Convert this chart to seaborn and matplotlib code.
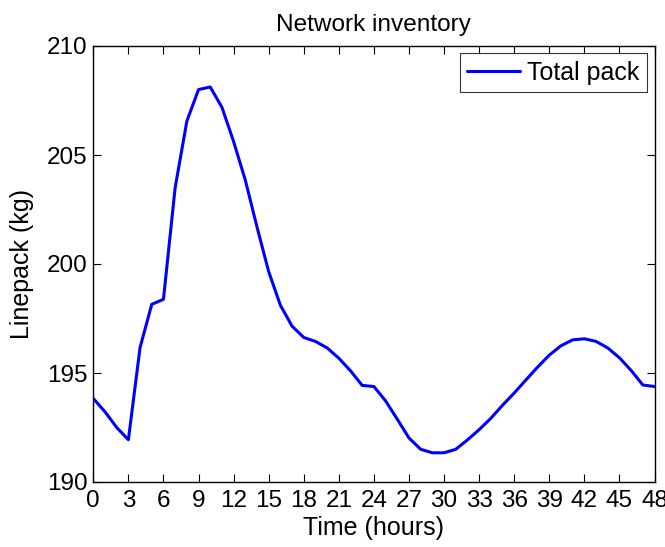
import numpy as np
import pandas as pd
import matplotlib
matplotlib.use("Agg")
import matplotlib.pyplot as plt
import seaborn as sns

# Hourly network linepack over a two-day horizon
hours = list(range(49))
linepack = [
    193.83, 193.22, 192.50, 191.94, 196.17, 198.15, 198.38, 203.50, 206.55, 208.00,
    208.12, 207.19, 205.62, 203.85, 201.70, 199.65, 198.11, 197.15, 196.63, 196.45,
    196.15, 195.68, 195.10, 194.43, 194.38, 193.72, 192.88, 192.02, 191.50, 191.34,
    191.34, 191.50, 191.93, 192.40, 192.92, 193.52, 194.08, 194.68, 195.27, 195.82,
    196.25, 196.52, 196.57, 196.45, 196.15, 195.70, 195.12, 194.45, 194.38,
]
xticks = list(range(0, 49, 3))
yticks = [190, 195, 200, 205, 210]

df = pd.DataFrame({"Time (hours)": hours, "Linepack (kg)": linepack})

sns.set_style("ticks")
plt.rcParams["font.family"] = ["Liberation Sans", "DejaVu Sans"]
plt.rcParams["text.color"] = "black"
plt.rcParams["axes.labelcolor"] = "black"

fig = plt.figure(figsize=(6.65, 5.47), dpi=100)
ax = fig.add_axes([93.3 / 665, (547 - 482) / 547, (654.5 - 93.3) / 665, (482 - 46) / 547])

sns.lineplot(data=df, x="Time (hours)", y="Linepack (kg)", ax=ax,
             color="#0000ff", linewidth=2.2, label="Total pack")

ax.set_xlim(0, 48)
ax.set_ylim(190, 210)
ax.set_xticks(xticks)
ax.set_yticks(yticks)
tick_fs = 17.5
lab_fs = 18
ax.tick_params(direction="in", length=6, width=0.8, top=True, right=True,
               labelsize=tick_fs, colors="black")
ax.tick_params(axis="x", pad=6)
ax.tick_params(axis="y", pad=4)
for s in ax.spines.values():
    s.set_visible(True)
    s.set_linewidth(1.0)
    s.set_color("black")
ax.set_xlabel("Time (hours)", fontsize=lab_fs, labelpad=3, color="black")
ax.set_ylabel("Linepack (kg)", fontsize=lab_fs, labelpad=9, color="black")
ax.set_title("Network inventory", fontsize=17.6, pad=11, color="black")

leg = ax.legend(loc="upper right", fontsize=lab_fs, frameon=True, fancybox=False,
                handlelength=2.1, handletextpad=0.3, borderpad=0.3,
                borderaxespad=0.3, labelcolor="black")
leg.get_frame().set_edgecolor("black")
leg.get_frame().set_linewidth(0.8)

fig.savefig("out.png", dpi=100)
